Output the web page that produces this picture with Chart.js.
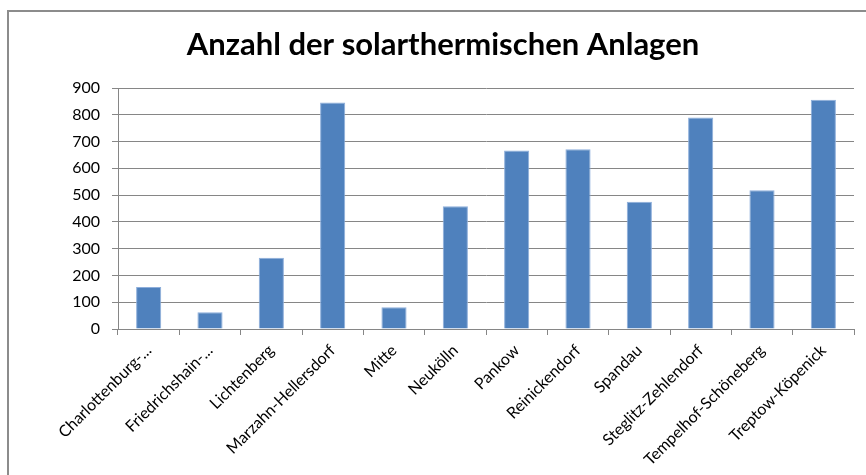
<!DOCTYPE html>
<html>
<head>
<meta charset="utf-8">
<script src="https://cdn.jsdelivr.net/npm/chart.js@4"></script>
<style>
  body { margin: 0; background: #fff; }
  #wrap { position: relative; width: 866px; height: 475px; }
  #frame { position: absolute; left: 7px; top: 10px; right: 0; bottom: 0;
           border-top: 2px solid #8c8c8c; border-left: 2px solid #8c8c8c; }
  #myChart { position: absolute; left: 0; top: 0; }
</style>
</head>
<body>
<div id="wrap">
  <div id="frame"></div>
  <canvas id="myChart" width="866" height="475"></canvas>
</div>
<script>
// Bezirke (Berlin) und Anzahl der Anlagen
var bezirke = ["Charlottenburg-...", "Friedrichshain-...", "Lichtenberg", "Marzahn-Hellersdorf",
    "Mitte", "Neukölln", "Pankow", "Reinickendorf", "Spandau", "Steglitz-Zehlendorf",
    "Tempelhof-Schöneberg", "Treptow-Köpenick"];
var anlagen = [157, 63, 266, 846, 81, 458, 667, 671, 475, 790, 518, 856];
var yTicks = [0, 100, 200, 300, 400, 500, 600, 700, 800, 900];
var titel = "Anzahl der solarthermischen Anlagen";

var font = "Lato";

// title drawn a bit right of the plot centre, like the original
var titlePlugin = {
    id: "titel",
    afterDraw: function (chart) {
        var ctx = chart.ctx;
        ctx.save();
        ctx.font = "bold 31px " + font;
        ctx.fillStyle = "#000";
        ctx.textAlign = "center";
        ctx.textBaseline = "middle";
        ctx.fillText(titel, 443, 45);
        ctx.restore();
    }
};

new Chart("myChart", {
    type: "bar",
    data: {
        labels: bezirke,
        datasets: [{
            backgroundColor: "#4F81BD",
            borderColor: "#8DAEDB",
            borderWidth: 1,
            data: anlagen,
            categoryPercentage: 1,
            barPercentage: 0.41
        }]
    },
    plugins: [titlePlugin],
    options: {
        responsive: false,
        animation: false,
        layout: { padding: { left: 0, right: 12, top: 88, bottom: 0 } },
        plugins: {
            legend: { display: false },
            tooltip: { enabled: false },
            title: { display: false }
        },
        scales: {
            x: {
                grid: { display: true, drawOnChartArea: false, offset: true, tickLength: 6, color: "#868686" },
                border: { color: "#868686" },
                ticks: {
                    color: "#000",
                    font: { family: font, size: 16 },
                    minRotation: 45,
                    maxRotation: 45,
                    autoSkip: false,
                    padding: 6
                },
                afterFit: function (s) { s.height = 146; }
            },
            y: {
                min: 0,
                max: 900,
                afterBuildTicks: function (s) { s.ticks = yTicks.map(function (v) { return { value: v }; }); },
                grid: { color: "#868686", tickLength: 6 },
                border: { color: "#868686" },
                ticks: { color: "#000", font: { family: font, size: 16 }, padding: 12 },
                afterFit: function (s) { s.width = 118; }
            }
        }
    }
});
</script>
</body>
</html>
